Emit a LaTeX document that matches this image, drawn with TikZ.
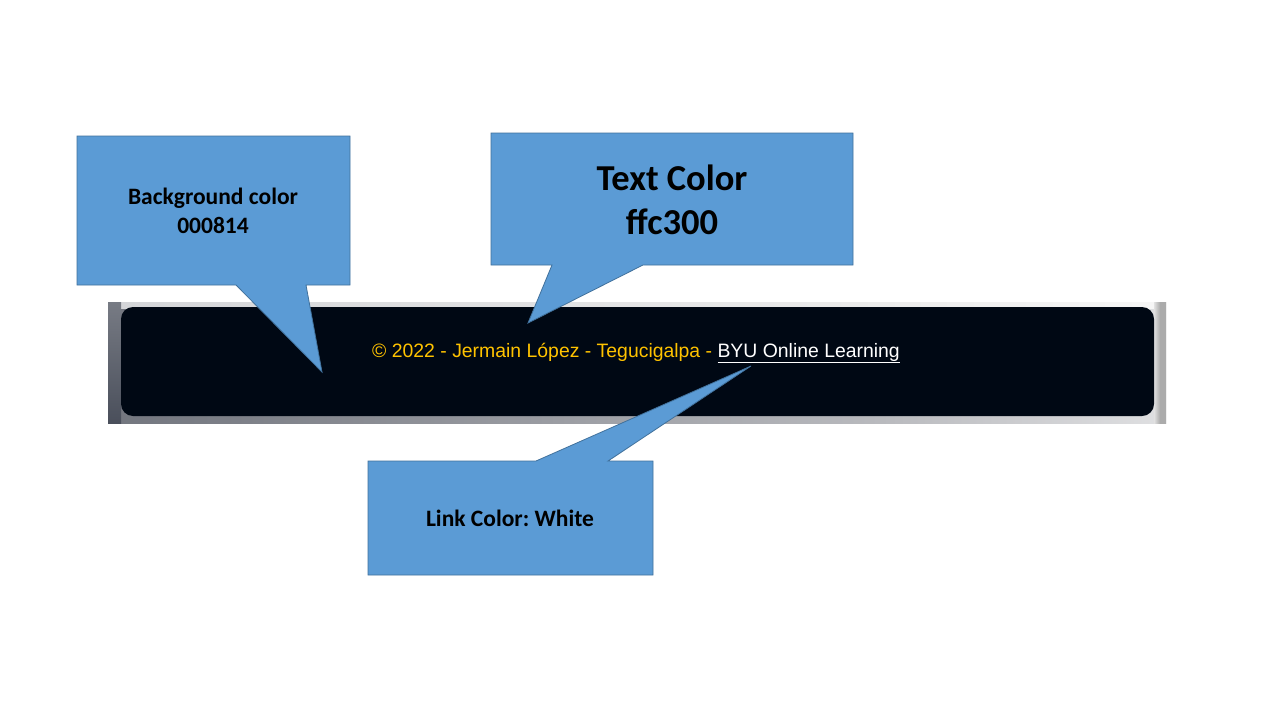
\documentclass[tikz,border=0pt]{standalone}
\usepackage{fontspec}
\setmainfont{Carlito}
\newfontfamily\footerfont{Liberation Sans}
\frenchspacing
\definecolor{calloutblue}{HTML}{5B9BD5}
\definecolor{calloutedge}{HTML}{41719C}
\definecolor{footerbg}{HTML}{000814}
\definecolor{footertext}{HTML}{FFC300}
\definecolor{edgedark}{HTML}{4A4F5B}
\definecolor{edgemid}{HTML}{7B7E86}
\definecolor{edgelight}{HTML}{BABBBF}
\definecolor{edgetopleft}{HTML}{C4C6CB}
\definecolor{edgeright}{HTML}{ABABAB}
% bottom and overall band of the frame, dark on the left, bright towards the right
\pgfdeclarehorizontalshading{framefade}{100bp}{
  color(0bp)=(edgedark);
  color(30bp)=(edgemid);
  color(62bp)=(edgelight);
  color(86bp)=(white);
  color(94bp)=(black!8!white);
  color(100bp)=(black!22!white)}
% thin top band of the frame
\pgfdeclarehorizontalshading{topfade}{100bp}{
  color(0bp)=(edgetopleft);
  color(60bp)=(black!8!white);
  color(86bp)=(white);
  color(100bp)=(black!12!white)}
\tikzset{
  callout/.style={fill=calloutblue, draw=calloutedge, line width=0.8pt, line join=miter},
  calloutlabel/.style={font=\bfseries, align=center, text=black, inner sep=0pt},
}
\begin{document}
\begin{tikzpicture}[x=1pt,y=-1pt]
\useasboundingbox (0,0) rectangle (1280,720);
\fill[white] (0,0) rectangle (1280,720);

% footer bar: shaded frame and rounded dark panel
\shade[shading=framefade] (108,302) rectangle (1166,423);
\shade[shading=topfade] (121,302) rectangle (1154,308);
\shade[top color=edgedark!75!white, bottom color=edgedark] (108,302) rectangle (121,423);
\shade[left color=black!12!white, right color=edgeright, middle color=edgeright] (1154,302) rectangle (1166,423);
\fill[footerbg, rounded corners=12pt] (121,307) rectangle (1154,416);
\node[font=\footerfont\fontsize{19.4}{23}\selectfont, inner sep=0pt] (footer) at (636,353)
  {\textcolor{footertext}{\textcopyright{} 2022 - Jermain López - Tegucigalpa - }\textcolor{white}{\underline{BYU Online Learning}}};

% callout: background colour
\coordinate (bgtip) at (322,372);
\filldraw[callout] (77,136) -- (350,136) -- (350,285) -- (306,285) -- (bgtip) -- (236,285) -- (77,285) -- cycle;
\node[calloutlabel, font=\bfseries\fontsize{23.5}{29}\selectfont] (bglabel) at (213,211) {Background color\\000814};

% callout: text colour
\coordinate (txttip) at (528,323);
\filldraw[callout] (491,133) -- (853,133) -- (853,265) -- (643,265) -- (txttip) -- (552,265) -- (491,265) -- cycle;
\node[calloutlabel, font=\bfseries\fontsize{36.5}{44}\selectfont] (txtlabel) at (672,200) {Text Color\\ffc300};

% callout: link colour
\coordinate (linktip) at (751,366);
\filldraw[callout] (368,461) -- (536,461) -- (linktip) -- (608,461) -- (653,461) -- (653,575) -- (368,575) -- cycle;
\node[calloutlabel, font=\bfseries\fontsize{23.5}{28}\selectfont] (linklabel) at (510,518) {Link Color: White};
\end{tikzpicture}
\end{document}
